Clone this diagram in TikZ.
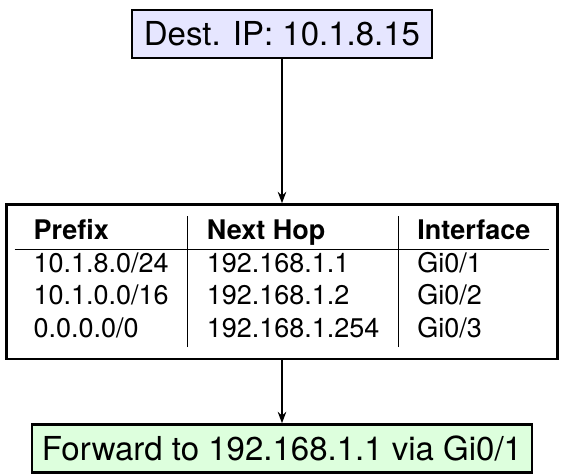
\documentclass[tikz,border=0pt]{standalone}
\usepackage{fontspec}
\setmainfont{TeX Gyre Heros}
\usetikzlibrary{arrows.meta,positioning}
\definecolor{QueryBlue}{HTML}{E6E6FF}
\definecolor{ResultGreen}{HTML}{DDFFDD}
\begin{document}
\begin{tikzpicture}[
  node distance=72pt,
  ipbox/.style={rectangle,draw=black,very thick,fill=QueryBlue,minimum width=150pt,minimum height=24pt,inner sep=2pt,font=\fontsize{16.5}{19.8}\selectfont},
  fwdbox/.style={rectangle,draw=black,very thick,fill=ResultGreen,minimum width=250pt,minimum height=24pt,inner sep=2pt,font=\fontsize{16.5}{19.8}\selectfont},
  tablebox/.style={rectangle,draw=black,very thick,fill=white,inner xsep=4pt,inner ysep=6pt,font=\fontsize{13.5}{16.2}\selectfont},
  arrow/.style={-{Stealth[length=2mm]},thick,draw=black}]
\useasboundingbox (-141pt,17pt) rectangle (141pt,-219.5pt);
\node[ipbox] (dest) at (0,0) {Dest. IP: 10.1.8.15};
\node[tablebox,below=of dest] (routes) {\setlength{\tabcolsep}{9.5pt}\setlength{\arrayrulewidth}{0.5pt}%
  \begin{tabular}{l|l|l}
    \textbf{Prefix} & \textbf{Next Hop} & \textbf{Interface} \\ \hline
    10.1.8.0/24 & 192.168.1.1 & Gi0/1 \\
    10.1.0.0/16 & 192.168.1.2 & Gi0/2 \\
    0.0.0.0/0 & 192.168.1.254 & Gi0/3 \\
  \end{tabular}};
\node[fwdbox,below=31.5pt of routes] (forward) {Forward to 192.168.1.1 via Gi0/1};
\draw[arrow] (dest) -- (routes);
\draw[arrow] (routes) -- (forward);
\end{tikzpicture}
\end{document}
